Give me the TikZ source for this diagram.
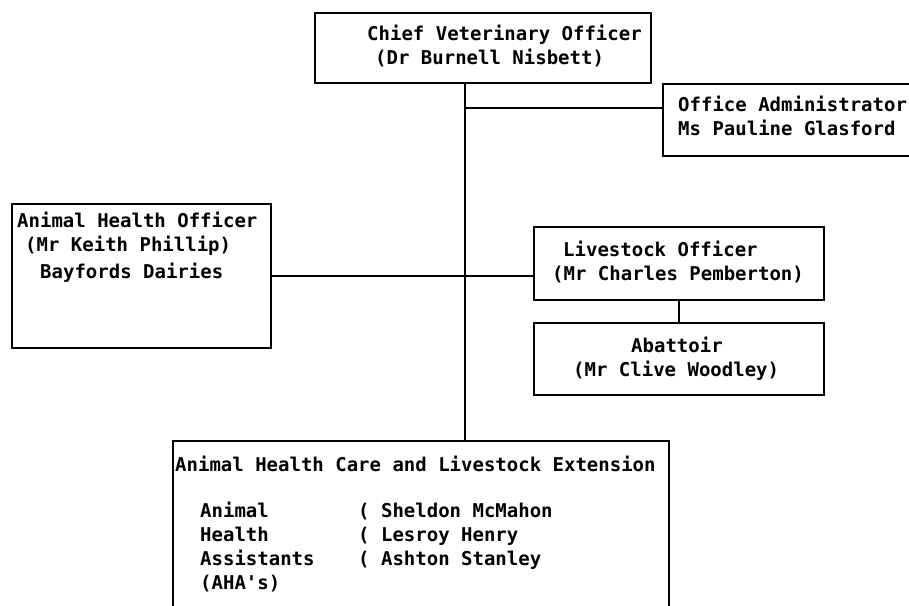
\documentclass[tikz,border=0pt]{standalone}
\usepackage{fontspec}
\setmonofont{DejaVu Sans Mono}
\usetikzlibrary{positioning}

\begin{document}
\begin{tikzpicture}[x=1pt,y=-1pt,
    font=\ttfamily\bfseries\fontsize{19}{24}\selectfont,
    orgbox/.style={draw,line width=2.2pt,anchor=north west,inner sep=0pt},
    orgtext/.style={anchor=base west,inner sep=0pt,align=left},
    link/.style={line width=2.2pt}]
  \clip (0,0) rectangle (909,605);

  % the boxes, top left corner first
  \node[orgbox,minimum width=336,minimum height=70]  (cvo)       at (314,12)  {};
  \node[orgbox,minimum width=268,minimum height=72]  (admin)     at (662,83)  {};
  \node[orgbox,minimum width=259,minimum height=144] (aho)       at (11,203)  {};
  \node[orgbox,minimum width=290,minimum height=73]  (livestock) at (533,226) {};
  \node[orgbox,minimum width=290,minimum height=72]  (abattoir)  at (533,322) {};
  \node[orgbox,minimum width=496,minimum height=200] (ext)       at (172,440) {};

  % what is written in them (base = baseline of the last line)
  \node[orgtext] (cvoText) at (367,64)
    {Chief Veterinary Officer\\\hspace*{8pt}(Dr Burnell Nisbett)};
  \node[orgtext] (adminText) at (678,135)
    {Office Administrator\\Ms Pauline Glasford};
  \node[orgtext] (ahoText) at (17,278)
    {Animal Health Officer\\\hspace*{8pt}(Mr Keith Phillip)\\[3pt]
     \hspace*{23pt}Bayfords Dairies};
  \node[orgtext] (livestockText) at (552,280)
    {\hspace*{11pt}Livestock Officer\\(Mr Charles Pemberton)};
  \node[orgtext] (abattoirText) at (573,376)
    {\hspace*{58pt}Abattoir\\(Mr Clive Woodley)};
  \node[orgtext] (extText) at (175,471)
    {Animal Health Care and Livestock Extension};
  \node[orgtext] (ahaText) at (200,589)
    {Animal\\Health\\Assistants\\(AHA's)};
  \node[orgtext] (ahaNames) at (358,565)
    {( Sheldon McMahon\\( Lesroy Henry\\( Ashton Stanley};

  % connecting lines
  \coordinate (trunk) at (465,0);
  \coordinate (adminTee) at (465,108);
  \draw[link] (cvo.south -| trunk) -- (ext.north -| trunk);
  \draw[link] (adminTee) -- (adminTee -| admin.west);
  \draw[link] (aho.east) -- (aho.east -| livestock.west);
  \draw[link] (livestock.south) -- (abattoir.north);
\end{tikzpicture}
\end{document}
